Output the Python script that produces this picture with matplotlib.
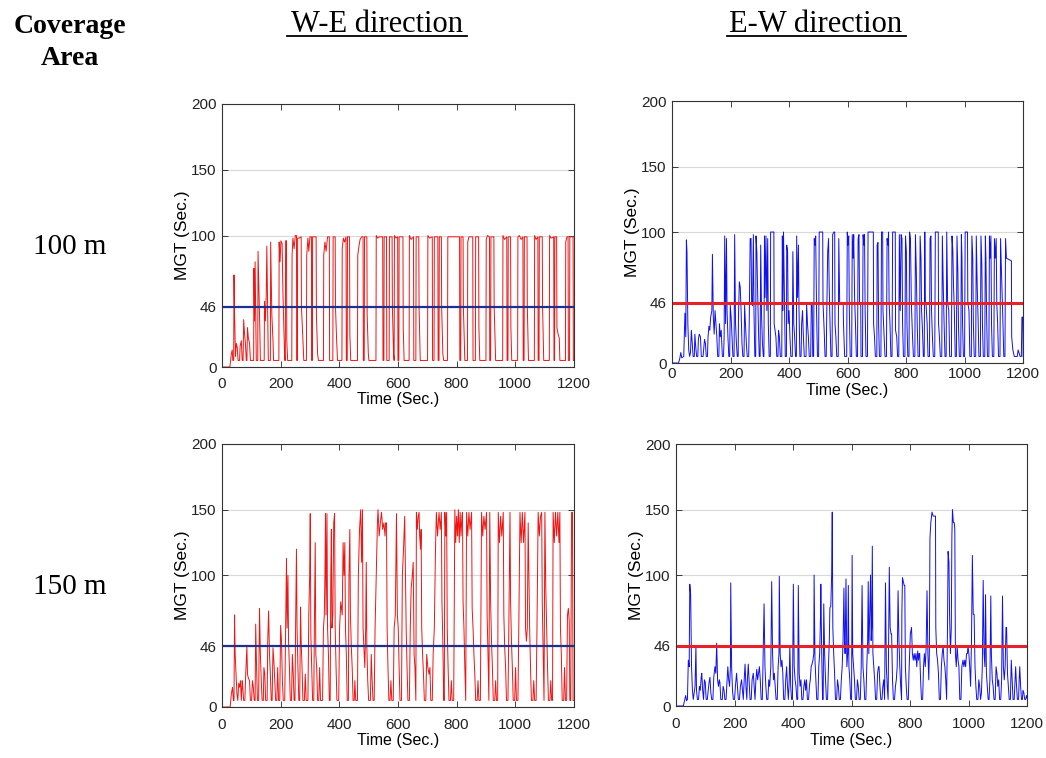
import matplotlib
matplotlib.use("Agg")
import matplotlib.pyplot as plt
from matplotlib.lines import Line2D

# MGT traces, (time, value) pairs
we_100 = [(0, 0), (27, 0), (32, 10), (35, 13), (37, 5), (40, 5), (41, 70), (43, 40), (46, 8), (49, 18), (52, 15), (55, 5),
          (60, 5), (62, 16), (66, 20), (69, 5), (72, 5), (74, 36), (77, 25), (80, 18), (83, 5), (85, 5), (87, 30), (90, 22),
          (94, 18), (97, 5), (108, 5), (109, 75), (111, 35), (113, 80), (115, 40), (117, 5), (122, 5), (123, 88), (126, 60),
          (129, 30), (131, 5), (144, 5), (145, 50), (148, 35), (151, 55), (153, 92), (156, 40), (158, 5), (165, 5), (166, 95),
          (170, 40), (174, 20), (176, 5), (194, 5), (195, 95), (198, 80), (201, 96), (205, 94), (208, 55), (211, 30), (214, 5),
          (216, 5), (217, 96), (220, 96), (221, 20), (224, 5), (238, 5), (239, 85), (242, 98), (246, 90), (250, 100), (254, 100),
          (255, 5), (257, 5), (258, 98), (263, 98), (270, 99), (271, 46), (275, 25), (279, 5), (288, 5), (289, 85), (293, 98),
          (296, 88), (300, 99), (305, 99), (306, 5), (308, 5), (309, 99), (321, 99), (322, 40), (326, 10), (329, 5), (346, 5),
          (347, 85), (351, 95), (355, 88), (360, 99), (366, 99), (367, 5), (378, 5), (379, 99), (386, 99), (387, 46), (391, 20),
          (394, 5), (409, 5), (410, 90), (414, 98), (418, 95), (423, 99), (424, 5), (427, 5), (428, 99), (435, 99), (436, 25),
          (439, 5), (462, 5), (463, 85), (467, 92), (471, 97), (476, 99), (481, 99), (482, 5), (485, 5), (486, 99), (494, 99),
          (495, 40), (499, 10), (501, 5), (525, 5), (526, 100), (531, 98), (536, 99), (548, 99), (549, 5), (552, 5), (553, 99),
          (561, 99), (562, 5), (570, 5), (571, 99), (580, 99), (581, 46), (585, 10), (587, 5), (588, 100), (594, 98), (599, 99),
          (600, 5), (603, 5), (604, 99), (617, 99), (618, 30), (621, 5), (638, 5), (639, 100), (645, 97), (653, 99), (654, 5),
          (661, 5), (662, 99), (671, 99), (672, 46), (676, 5), (701, 5), (702, 100), (708, 98), (717, 99), (718, 5), (723, 5),
          (724, 99), (736, 99), (737, 5), (740, 5), (741, 99), (748, 99), (749, 46), (753, 10), (756, 5), (769, 5), (770, 99),
          (790, 99), (810, 99), (811, 5), (814, 5), (815, 99), (822, 99), (823, 46), (828, 5), (837, 5), (838, 95), (842, 99),
          (855, 99), (856, 5), (864, 5), (865, 99), (875, 99), (876, 30), (879, 5), (900, 5), (901, 97), (905, 100), (912, 99),
          (913, 5), (916, 5), (917, 99), (927, 99), (928, 46), (933, 5), (957, 5), (958, 100), (963, 97), (971, 99), (972, 5),
          (975, 5), (976, 99), (984, 99), (985, 30), (988, 5), (1008, 5), (1009, 99), (1014, 100), (1020, 97), (1026, 99),
          (1027, 5), (1030, 5), (1031, 99), (1040, 99), (1041, 46), (1045, 5), (1065, 5), (1066, 100), (1071, 97), (1077, 99),
          (1078, 5), (1081, 5), (1082, 99), (1092, 99), (1093, 46), (1097, 5), (1116, 5), (1117, 100), (1122, 98), (1131, 99),
          (1132, 5), (1134, 5), (1135, 99), (1141, 99), (1142, 30), (1146, 25), (1150, 22), (1152, 5), (1171, 5), (1172, 95),
          (1176, 99), (1180, 99), (1181, 5), (1185, 5), (1186, 99), (1197, 99), (1198, 5), (1200, 5)]

ew_100 = [(0, 0), (22, 0), (26, 3), (30, 8), (33, 4), (40, 5), (44, 38), (47, 20), (49, 94), (51, 85), (54, 30), (57, 10),
          (60, 5), (63, 8), (66, 25), (69, 15), (72, 5), (76, 5), (78, 22), (81, 12), (84, 5), (88, 5), (90, 18), (93, 22),
          (97, 20), (100, 5), (106, 5), (108, 10), (111, 18), (114, 15), (117, 5), (121, 5), (123, 20), (126, 28), (129, 25),
          (132, 35), (136, 40), (138, 83), (141, 35), (144, 22), (147, 40), (150, 30), (153, 20), (156, 5), (160, 5), (162, 30),
          (165, 20), (168, 25), (172, 5), (176, 5), (178, 20), (180, 97), (183, 30), (186, 95), (188, 40), (191, 20), (194, 5),
          (197, 5), (199, 44), (202, 35), (205, 20), (208, 5), (212, 5), (214, 98), (217, 30), (220, 15), (223, 5), (226, 5),
          (227, 35), (230, 62), (233, 58), (236, 40), (239, 15), (242, 5), (246, 5), (248, 44), (251, 30), (254, 15), (257, 5),
          (262, 5), (264, 35), (267, 95), (270, 95), (272, 46), (275, 44), (278, 98), (280, 40), (283, 5), (286, 5), (287, 97),
          (290, 84), (292, 60), (295, 30), (298, 5), (301, 5), (303, 90), (306, 35), (309, 15), (312, 5), (314, 5), (316, 97),
          (318, 50), (321, 97), (324, 40), (327, 95), (329, 30), (332, 5), (336, 5), (337, 100), (348, 100), (349, 30), (352, 25),
          (355, 20), (358, 5), (362, 5), (364, 25), (367, 20), (370, 5), (375, 5), (377, 97), (379, 40), (381, 100), (384, 50),
          (387, 5), (391, 5), (392, 90), (395, 85), (397, 30), (400, 40), (403, 20), (406, 5), (411, 5), (413, 85), (416, 30),
          (419, 20), (422, 5), (425, 5), (426, 97), (429, 50), (432, 90), (434, 40), (437, 5), (441, 5), (443, 30), (446, 40),
          (449, 20), (452, 5), (458, 5), (460, 45), (463, 30), (466, 20), (469, 5), (474, 5), (476, 46), (479, 46), (481, 5),
          (484, 5), (486, 95), (489, 90), (491, 97), (494, 40), (497, 5), (501, 5), (503, 100), (515, 100), (516, 46), (520, 25),
          (523, 5), (527, 5), (529, 40), (532, 85), (535, 95), (537, 60), (540, 30), (543, 5), (547, 5), (549, 98), (553, 100),
          (556, 100), (557, 30), (560, 20), (563, 5), (568, 5), (570, 95), (573, 46), (585, 46), (586, 30), (590, 5), (597, 5),
          (599, 100), (601, 90), (604, 97), (606, 40), (609, 5), (614, 5), (616, 98), (619, 80), (621, 98), (624, 50), (627, 30),
          (630, 5), (634, 5), (636, 95), (639, 98), (641, 46), (645, 46), (646, 5), (651, 5), (653, 98), (656, 90), (658, 98),
          (660, 40), (663, 5), (668, 5), (670, 100), (688, 100), (689, 30), (692, 20), (695, 5), (700, 5), (701, 90), (704, 92),
          (706, 30), (709, 5), (714, 5), (716, 100), (720, 100), (721, 40), (725, 20), (728, 5), (733, 5), (735, 95), (738, 90),
          (740, 100), (742, 46), (745, 30), (748, 5), (752, 5), (754, 100), (763, 100), (764, 25), (768, 20), (771, 5), (775, 5),
          (777, 98), (780, 40), (783, 98), (786, 95), (788, 30), (791, 5), (796, 5), (798, 97), (801, 85), (803, 30), (806, 5),
          (810, 5), (812, 100), (815, 95), (818, 46), (822, 20), (825, 5), (830, 5), (832, 98), (835, 70), (838, 30), (841, 5),
          (846, 5), (848, 97), (851, 80), (853, 40), (856, 25), (859, 5), (862, 5), (864, 100), (866, 46), (868, 46), (872, 30),
          (875, 5), (880, 5), (882, 95), (885, 97), (887, 40), (890, 20), (893, 5), (898, 5), (900, 100), (910, 100), (911, 30),
          (914, 20), (917, 5), (922, 5), (924, 97), (927, 60), (930, 30), (933, 5), (937, 5), (939, 100), (942, 46), (946, 40),
          (949, 5), (955, 5), (957, 97), (960, 85), (962, 60), (965, 40), (968, 5), (972, 5), (974, 97), (977, 70), (979, 30),
          (982, 5), (987, 5), (989, 98), (991, 80), (993, 30), (996, 5), (1000, 5), (1002, 100), (1010, 100), (1011, 46),
          (1015, 40), (1018, 5), (1023, 5), (1025, 97), (1028, 80), (1030, 30), (1033, 5), (1038, 5), (1040, 97), (1043, 60),
          (1046, 35), (1049, 5), (1054, 5), (1056, 97), (1059, 75), (1061, 30), (1064, 5), (1069, 5), (1071, 97), (1073, 80),
          (1075, 40), (1078, 5), (1083, 5), (1085, 97), (1087, 80), (1090, 97), (1092, 30), (1095, 5), (1100, 5), (1102, 95),
          (1105, 80), (1108, 95), (1110, 46), (1113, 30), (1116, 5), (1121, 5), (1123, 95), (1126, 70), (1130, 40), (1134, 5),
          (1138, 5), (1140, 95), (1143, 80), (1160, 78), (1161, 20), (1165, 10), (1170, 5), (1180, 5), (1183, 10), (1190, 5),
          (1194, 5), (1196, 35), (1199, 35), (1200, 5)]

we_150 = [(0, 0), (28, 0), (32, 10), (36, 15), (39, 5), (41, 5), (43, 70), (45, 40), (48, 25), (51, 10), (54, 5), (57, 18),
          (60, 15), (63, 20), (66, 5), (69, 20), (71, 15), (74, 5), (78, 5), (81, 25), (85, 46), (87, 25), (90, 22), (94, 20),
          (97, 5), (101, 5), (104, 20), (107, 15), (110, 5), (113, 5), (115, 63), (118, 30), (121, 5), (125, 5), (128, 75),
          (131, 40), (134, 20), (137, 5), (141, 5), (143, 30), (146, 25), (149, 5), (154, 5), (156, 50), (159, 73), (162, 40),
          (165, 25), (168, 5), (171, 5), (174, 45), (177, 35), (180, 20), (183, 5), (187, 5), (190, 30), (193, 5), (197, 5),
          (200, 62), (203, 50), (206, 20), (209, 5), (214, 5), (217, 60), (220, 113), (222, 60), (225, 100), (227, 50), (230, 30),
          (233, 5), (237, 5), (240, 40), (243, 25), (246, 5), (249, 5), (251, 60), (254, 120), (256, 60), (259, 30), (262, 5),
          (265, 5), (268, 76), (270, 50), (273, 30), (276, 5), (281, 5), (284, 25), (287, 5), (293, 5), (296, 70), (299, 100),
          (301, 147), (303, 55), (306, 30), (309, 5), (313, 5), (315, 60), (318, 125), (320, 40), (323, 30), (326, 5), (330, 5),
          (333, 30), (336, 5), (343, 5), (346, 60), (349, 70), (351, 100), (353, 147), (355, 70), (358, 147), (360, 60),
          (363, 40), (366, 5), (369, 5), (371, 100), (373, 135), (375, 60), (378, 70), (381, 140), (384, 147), (386, 60),
          (389, 30), (392, 5), (398, 5), (401, 60), (405, 80), (410, 70), (413, 125), (416, 100), (419, 125), (421, 60),
          (424, 40), (427, 5), (431, 5), (433, 100), (436, 135), (438, 70), (441, 46), (444, 30), (447, 5), (451, 5), (453, 20),
          (456, 5), (462, 5), (465, 100), (469, 135), (473, 150), (476, 110), (479, 150), (481, 60), (484, 45), (487, 30),
          (490, 60), (492, 110), (494, 45), (497, 20), (500, 5), (506, 5), (509, 40), (512, 20), (515, 5), (519, 5), (522, 60),
          (526, 100), (530, 140), (532, 150), (536, 130), (540, 140), (544, 148), (548, 135), (552, 140), (556, 130), (558, 140),
          (561, 140), (563, 60), (566, 30), (569, 5), (573, 5), (576, 20), (579, 5), (584, 5), (587, 60), (591, 70), (595, 147),
          (598, 70), (601, 60), (604, 30), (607, 5), (612, 5), (615, 100), (619, 120), (623, 145), (625, 110), (628, 60),
          (631, 30), (634, 5), (639, 5), (642, 60), (645, 90), (649, 100), (652, 110), (655, 40), (658, 30), (661, 5), (663, 148),
          (666, 135), (669, 145), (672, 148), (674, 130), (677, 120), (679, 135), (681, 60), (684, 40), (687, 25), (690, 5),
          (695, 5), (698, 40), (702, 30), (706, 25), (709, 30), (712, 5), (717, 5), (720, 40), (724, 60), (728, 120), (731, 148),
          (735, 130), (740, 148), (744, 135), (748, 148), (750, 80), (753, 50), (756, 5), (758, 5), (760, 148), (763, 130),
          (766, 148), (768, 60), (771, 30), (774, 5), (779, 5), (782, 20), (785, 5), (790, 5), (794, 150), (797, 125), (800, 145),
          (803, 130), (806, 150), (809, 125), (812, 148), (815, 130), (818, 145), (820, 148), (822, 80), (825, 60), (828, 30),
          (831, 5), (834, 148), (838, 130), (842, 148), (846, 135), (851, 148), (853, 75), (856, 60), (859, 40), (862, 25),
          (865, 5), (870, 5), (873, 20), (876, 5), (881, 5), (885, 148), (889, 130), (893, 145), (897, 135), (902, 148),
          (904, 70), (907, 40), (910, 5), (913, 148), (916, 80), (919, 50), (922, 30), (925, 5), (930, 5), (933, 20), (936, 5),
          (940, 5), (942, 148), (946, 125), (950, 145), (954, 130), (959, 148), (961, 70), (964, 45), (967, 30), (970, 5),
          (975, 5), (978, 60), (982, 148), (984, 80), (987, 50), (990, 30), (993, 5), (998, 5), (1001, 30), (1004, 5), (1009, 5),
          (1012, 60), (1016, 148), (1020, 125), (1024, 148), (1028, 125), (1033, 148), (1035, 60), (1038, 50), (1041, 60),
          (1044, 140), (1046, 110), (1049, 60), (1052, 30), (1055, 5), (1060, 5), (1063, 20), (1066, 5), (1071, 5), (1074, 60),
          (1078, 148), (1082, 130), (1086, 145), (1090, 148), (1092, 80), (1095, 40), (1098, 5), (1101, 148), (1104, 90),
          (1107, 60), (1110, 30), (1113, 5), (1118, 5), (1121, 20), (1124, 5), (1127, 5), (1129, 148), (1133, 125), (1137, 148),
          (1141, 130), (1145, 148), (1149, 125), (1152, 148), (1154, 60), (1157, 40), (1160, 5), (1165, 5), (1168, 30),
          (1171, 5), (1175, 5), (1178, 70), (1181, 75), (1184, 65), (1186, 5), (1189, 5), (1192, 148), (1195, 148), (1197, 5),
          (1200, 5)]

ew_150 = [(0, 0), (25, 0), (29, 4), (33, 8), (36, 4), (39, 5), (42, 35), (45, 30), (47, 93), (50, 85), (53, 30), (56, 12),
          (59, 5), (62, 10), (65, 15), (68, 46), (70, 12), (73, 5), (77, 5), (80, 15), (83, 12), (86, 22), (88, 25), (91, 12),
          (94, 5), (97, 20), (100, 18), (103, 5), (107, 5), (110, 12), (113, 18), (116, 22), (119, 10), (122, 5), (126, 5),
          (129, 22), (133, 30), (136, 25), (139, 48), (142, 20), (145, 15), (148, 20), (150, 18), (153, 5), (158, 5), (161, 15),
          (164, 12), (167, 5), (171, 5), (174, 18), (177, 30), (180, 20), (183, 15), (186, 30), (187, 94), (190, 30), (193, 12),
          (196, 5), (200, 5), (203, 15), (207, 25), (210, 15), (213, 5), (217, 5), (220, 15), (224, 20), (227, 12), (230, 5),
          (233, 20), (236, 32), (239, 15), (242, 5), (244, 20), (247, 32), (250, 18), (253, 5), (257, 5), (260, 20), (264, 25),
          (267, 15), (270, 5), (273, 20), (276, 28), (279, 20), (282, 25), (285, 30), (288, 20), (291, 5), (295, 5), (298, 40),
          (301, 78), (304, 30), (307, 15), (310, 5), (314, 5), (317, 20), (320, 15), (324, 30), (327, 95), (330, 40), (333, 20),
          (336, 25), (339, 15), (342, 5), (346, 5), (349, 30), (352, 40), (353, 99), (356, 40), (359, 30), (362, 35), (365, 25),
          (368, 5), (372, 5), (375, 20), (378, 30), (381, 15), (384, 5), (387, 20), (389, 46), (392, 15), (395, 5), (398, 5),
          (401, 93), (404, 30), (407, 20), (410, 15), (413, 5), (416, 5), (418, 92), (421, 25), (424, 15), (427, 20), (430, 5),
          (434, 5), (437, 15), (440, 20), (443, 12), (446, 20), (449, 5), (453, 5), (456, 15), (459, 20), (462, 30), (465, 32),
          (468, 35), (471, 40), (472, 100), (475, 35), (478, 20), (481, 5), (485, 5), (488, 30), (491, 40), (494, 70), (495, 93),
          (498, 40), (501, 5), (503, 5), (505, 78), (508, 40), (511, 20), (514, 5), (518, 5), (521, 30), (524, 50), (526, 75),
          (529, 76), (532, 100), (534, 148), (536, 60), (539, 40), (542, 25), (545, 5), (549, 5), (552, 20), (555, 15), (558, 5),
          (562, 5), (565, 20), (568, 30), (571, 50), (574, 90), (576, 50), (578, 40), (581, 97), (584, 30), (587, 40), (589, 92),
          (591, 30), (594, 20), (597, 5), (600, 5), (602, 115), (604, 40), (607, 30), (610, 20), (613, 5), (617, 5), (620, 20),
          (623, 15), (626, 5), (630, 5), (633, 30), (636, 92), (639, 30), (642, 20), (645, 5), (649, 5), (652, 30), (655, 50),
          (657, 95), (659, 40), (662, 70), (665, 100), (667, 50), (669, 60), (671, 122), (673, 40), (676, 30), (679, 20),
          (682, 5), (686, 5), (689, 25), (692, 30), (694, 30), (697, 15), (700, 5), (704, 5), (707, 15), (710, 20), (713, 5),
          (716, 94), (719, 30), (722, 15), (725, 5), (727, 60), (729, 106), (732, 60), (735, 55), (737, 55), (740, 20), (743, 5),
          (747, 5), (750, 15), (753, 20), (756, 30), (759, 88), (762, 50), (765, 30), (768, 15), (771, 5), (772, 70), (774, 98),
          (777, 95), (780, 92), (782, 92), (784, 30), (787, 15), (790, 5), (794, 5), (797, 30), (801, 55), (805, 60), (808, 40),
          (811, 35), (814, 40), (817, 35), (820, 40), (823, 30), (826, 42), (829, 35), (831, 40), (833, 40), (836, 20), (839, 5),
          (843, 5), (846, 30), (849, 40), (852, 30), (855, 45), (858, 88), (861, 40), (864, 20), (866, 40), (868, 128), (871, 140),
          (875, 148), (879, 145), (884, 145), (887, 145), (888, 60), (891, 40), (894, 35), (897, 25), (900, 5), (904, 5),
          (907, 30), (910, 40), (913, 46), (916, 35), (919, 30), (922, 20), (925, 5), (928, 60), (930, 118), (933, 110),
          (935, 70), (938, 40), (941, 60), (943, 130), (945, 150), (948, 140), (951, 140), (953, 135), (955, 40), (958, 30),
          (961, 46), (964, 35), (967, 30), (970, 5), (974, 5), (977, 30), (981, 35), (984, 30), (987, 35), (990, 30), (993, 40),
          (996, 40), (998, 46), (1001, 40), (1004, 30), (1007, 15), (1010, 50), (1013, 115), (1016, 70), (1019, 70), (1022, 30),
          (1025, 15), (1028, 5), (1032, 5), (1035, 20), (1038, 15), (1041, 5), (1044, 10), (1047, 30), (1050, 96), (1053, 40),
          (1056, 30), (1058, 85), (1061, 25), (1064, 15), (1067, 5), (1070, 5), (1073, 20), (1076, 84), (1078, 40), (1081, 20),
          (1084, 15), (1087, 5), (1091, 5), (1094, 30), (1097, 25), (1100, 15), (1103, 20), (1106, 5), (1110, 5), (1113, 20),
          (1116, 84), (1119, 30), (1122, 20), (1125, 30), (1128, 60), (1130, 60), (1133, 25), (1136, 15), (1139, 5), (1143, 5),
          (1146, 35), (1149, 20), (1152, 5), (1156, 5), (1159, 20), (1161, 30), (1164, 15), (1167, 5), (1171, 5), (1173, 20),
          (1175, 30), (1178, 15), (1181, 5), (1184, 5), (1186, 12), (1189, 10), (1192, 5), (1195, 5), (1198, 8), (1200, 6)]

threshold = 46
y_ticks = [0, 46, 100, 150, 200]
x_ticks = [0, 200, 400, 600, 800, 1000, 1200]

plt.rcParams['font.family'] = ['Liberation Sans', 'DejaVu Sans']

fig = plt.figure(figsize=(10.46, 7.58), dpi=100)

panels = [
    (we_100, [0.2122, 0.5158, 0.3365, 0.347], "#f01414", "#1f2f8f", 1.6, 7),
    (ew_100, [0.6425, 0.5211, 0.3356, 0.3456], "#1010f0", "#e8202a", 2.2, 3),
    (we_150, [0.2122, 0.0673, 0.3365, 0.347], "#f01414", "#1f2f8f", 1.6, 8),
    (ew_150, [0.6463, 0.0686, 0.3356, 0.3456], "#1010f0", "#e8202a", 2.2, 8),
]

for data, rect, col, hcol, hlw, xpad in panels:
    ax = fig.add_axes(rect)
    t, v = zip(*data)
    ax.plot(t, v, color=col, lw=0.7)
    ax.axhline(threshold, color=hcol, lw=hlw)
    ax.set_xlim(0, 1200)
    ax.set_ylim(0, 200)
    ax.set_xticks(x_ticks)
    ax.set_yticks(y_ticks)
    ax.yaxis.grid(True, color="#d9d9d9", lw=0.8)
    ax.set_axisbelow(True)
    ax.tick_params(direction="in", top=True, right=True, length=4, width=0.6,
                   labelsize=11, colors="#222222")
    ax.tick_params(axis="x", pad=xpad)
    ax.tick_params(axis="y", pad=4)
    for s in ax.spines.values():
        s.set_color("#333333")
        s.set_linewidth(0.8)
    ax.set_xlabel("Time (Sec.)", fontsize=11.5, labelpad=1)
    ax.set_ylabel("MGT (Sec.)", fontsize=12.5, labelpad=1)

serif = "Liberation Serif"
fig.text(0.0669, 0.9565, "Coverage", ha="center", va="baseline", family=serif,
         fontsize=20, fontweight="bold")
fig.text(0.0669, 0.914, "Area", ha="center", va="baseline", family=serif,
         fontsize=20, fontweight="bold")
fig.text(0.3604, 0.958, "W-E direction", ha="center", va="baseline", family=serif, fontsize=22)
fig.text(0.780, 0.958, "E-W direction", ha="center", va="baseline", family=serif, fontsize=22)
fig.add_artist(Line2D([0.2744, 0.4465], [0.9525, 0.9525], color="black", lw=1.3))
fig.add_artist(Line2D([0.695, 0.866], [0.9525, 0.9525], color="black", lw=1.3))
fig.text(0.0669, 0.665, "100 m", ha="center", va="baseline", family=serif, fontsize=21)
fig.text(0.0669, 0.216, "150 m", ha="center", va="baseline", family=serif, fontsize=21)

fig.savefig("out.png", dpi=100)
